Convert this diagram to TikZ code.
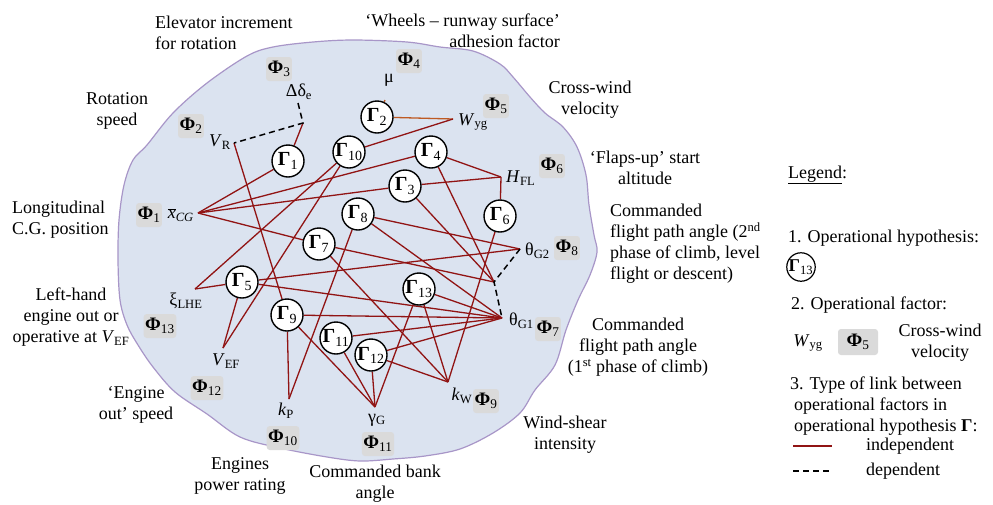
\documentclass[tikz,border=0pt]{standalone}
\usepackage{fontspec}
\setmainfont{Liberation Serif}
\usepackage{tikz}
\usetikzlibrary{backgrounds}
\definecolor{cloud}{RGB}{219,227,240}
\definecolor{cloud-edge}{RGB}{168,150,200}
\definecolor{link-red}{RGB}{145,20,20}
\definecolor{link-orange}{RGB}{190,90,35}
\definecolor{phi-gray}{RGB}{218,218,218}
\newcommand{\hyp}[1]{\textbf{Γ}\textsubscript{#1}}
\newcommand{\fac}[1]{\textbf{Φ}\textsubscript{#1}}

\begin{document}
\begin{tikzpicture}[x=1pt,y=-1pt,
	gam/.style={circle,draw,line width=1.4pt,fill=white,minimum size=32pt,inner sep=0pt,font=\fontsize{20}{20}\selectfont},
	phi/.style={fill=phi-gray,rounded corners=3pt,minimum height=24pt,minimum width=24pt,inner sep=1.5pt,font=\fontsize{19}{19}\selectfont},
	indep/.style={link-red,line width=1.3pt},
	dep/.style={black,line width=1.5pt,dash pattern=on 6pt off 4pt},
	lbl/.style={font=\fontsize{18}{21}\selectfont,inner sep=0pt,align=center},
	sym/.style={font=\fontsize{18}{18}\selectfont,inner sep=0pt}]
	\useasboundingbox (0,0) rectangle (993,504);

	% Operational hypotheses
	\node[gam] (g1) at (288,161) {\hyp{1}};
	\node[gam] (g2) at (377,117) {\hyp{2}};
	\node[gam] (g10) at (349,152) {\hyp{10}};
	\node[gam] (g4) at (431,152) {\hyp{4}};
	\node[gam] (g3) at (405,186) {\hyp{3}};
	\node[gam] (g8) at (358,214) {\hyp{8}};
	\node[gam] (g6) at (500,216) {\hyp{6}};
	\node[gam] (g7) at (319,244) {\hyp{7}};
	\node[gam] (g5) at (242,282) {\hyp{5}};
	\node[gam] (g13) at (419,289) {\hyp{13}};
	\node[gam] (g9) at (287,315) {\hyp{9}};
	\node[gam] (g11) at (336,338) {\hyp{11}};
	\node[gam] (g12) at (371,355) {\hyp{12}};

	% Link points of the operational factors
	\coordinate (de) at (298,103);
	\coordinate (jr) at (303,123);
	\coordinate (vr) at (234,143);
	\coordinate (mu) at (385,100);
	\coordinate (wyg) at (453,119);
	\coordinate (hfl) at (501,177);
	\coordinate (tg2) at (520,249);
	\coordinate (jt) at (494,282);
	\coordinate (tg1) at (502,318);
	\coordinate (kw) at (448,382);
	\coordinate (gg) at (375,407);
	\coordinate (kp) at (289,399);
	\coordinate (vef) at (223,348);
	\coordinate (xi) at (195,289);
	\coordinate (xcg) at (198,213);

	% Names of the factors
	\node[sym,anchor=east] (vr-t) at (231,142) {\textit{V}\textsubscript{R}};
	\node[sym] (de-t) at (299,92) {Δδ\textsubscript{e}};
	\node[sym] (mu-t) at (389,80) {μ};
	\node[sym,anchor=west] (wyg-t) at (458,122) {\textit{W}\textsubscript{yg}};
	\node[sym,anchor=west] (hfl-t) at (506,178) {\textit{H}\textsubscript{FL}};
	\node[sym,anchor=west] (tg2-t) at (525,251) {θ\textsubscript{G2}};
	\node[sym,anchor=west] (tg1-t) at (509,321) {θ\textsubscript{G1}};
	\node[sym] (kw-t) at (462,396) {\textit{k}\textsubscript{W}};
	\node[sym] (gg-t) at (377,420) {γ\textsubscript{G}};
	\node[sym] (kp-t) at (286,411) {\textit{k}\textsubscript{P}};
	\node[sym] (vef-t) at (226,361) {\textit{V}\textsubscript{EF}};
	\node[sym] (xi-t) at (186,301) {ξ\textsubscript{LHE}};
	\node[sym,anchor=east] (xcg-t) at (194,215) {$\overline{\mbox{\itshape x}}$\textsubscript{\itshape CG}};

	% Factor boxes
	\node[phi] (p1) at (149,215) {\fac{1}};
	\node[phi] (p2) at (191,126) {\fac{2}};
	\node[phi] (p3) at (279,69) {\fac{3}};
	\node[phi] (p4) at (409,61) {\fac{4}};
	\node[phi] (p5) at (496,106) {\fac{5}};
	\node[phi] (p6) at (552,166) {\fac{6}};
	\node[phi] (p8) at (567,248) {\fac{8}};
	\node[phi] (p7) at (548,329) {\fac{7}};
	\node[phi] (p9) at (486,401) {\fac{9}};
	\node[phi] (p11) at (378,444) {\fac{11}};
	\node[phi] (p10) at (283,438) {\fac{10}};
	\node[phi] (p12) at (207,388) {\fac{12}};
	\node[phi] (p13) at (160,326) {\fac{13}};

	\begin{pgfonlayer}{background}
	% Field of the factors
	\draw[cloud-edge,fill=cloud,line width=1.2pt] plot[smooth cycle,tension=0.55] coordinates {
		(133,160) (147,145) (173,113) (207,83) (247,56) (273,47) (313,42) (353,40)
		(407,42) (440,47) (473,51) (500,64) (513,77) (530,97) (545,113) (563,127)
		(577,147) (586,175) (589,205) (594,235) (597,252) (590,275) (578,300)
		(566,330) (555,365) (535,390) (520,413) (493,433) (460,449) (425,456)
		(393,459) (360,461) (327,457) (280,448) (240,437) (207,414) (175,392)
		(153,367) (138,345) (127,325) (120,300) (118,260) (119,220) (124,185)};

	% Independent links
	\draw[indep] (g1) -- (jr);
	\draw[indep] (g1) -- (xcg);
	\draw[link-orange,line width=1.3pt] (g2) -- (mu);
	\draw[link-orange,line width=1.3pt] (g2) -- (wyg);
	\draw[indep] (g10) -- (wyg);
	\draw[indep] (g10) -- (xi);
	\draw[indep] (g10) -- (vef);
	\draw[indep] (g4) -- (xcg);
	\draw[indep] (g4) -- (hfl);
	\draw[indep] (g4) -- (jt);
	\draw[indep] (g3) -- (xcg);
	\draw[indep] (g3) -- (hfl);
	\draw[indep] (g3) -- (jt);
	\draw[indep] (g6) -- (hfl);
	\draw[indep] (g6) -- (kw);
	\draw[indep] (g8) -- (tg2);
	\draw[indep] (g8) -- (tg1);
	\draw[indep] (g8) -- (kp);
	\draw[indep] (g7) -- (xcg);
	\draw[indep] (g7) -- (jt);
	\draw[indep] (g7) -- (kw);
	\draw[indep] (g5) -- (xi);
	\draw[indep] (g5) -- (vef);
	\draw[indep] (g5) -- (tg2);
	\draw[indep] (g5) -- (tg1);
	\draw[indep] (g13) -- (tg1);
	\draw[indep] (g13) -- (gg);
	\draw[indep] (g13) -- (kw);
	\draw[indep] (g9) -- (vr);
	\draw[indep] (g9) -- (kp);
	\draw[indep] (g9) -- (tg1);
	\draw[indep] (g9) -- (gg);
	\draw[indep] (g11) -- (tg1);
	\draw[indep] (g11) -- (gg);
	\draw[indep] (g12) -- (tg1);
	\draw[indep] (g12) -- (gg);
	\draw[indep] (g12) -- (kw);

	% Dependent links
	\draw[dep] (de) -- (jr) -- (vr);
	\draw[dep] (tg2) -- (jt) -- (tg1);
	\end{pgfonlayer}

	% Names of the operational factors
	\node[lbl,align=left,anchor=west] (t3) at (155,33) {Elevator increment\\for rotation};
	\node[lbl,align=right,anchor=east] (t4) at (560,31) {‘Wheels – runway surface’\\adhesion factor};
	\node[lbl] (t2) at (117,111) {Rotation\\speed};
	\node[lbl] (t5) at (590,100) {Cross-wind\\velocity};
	\node[lbl] (t6) at (645,168) {‘Flaps-up’ start\\altitude};
	\node[lbl,align=left,anchor=west] (t8) at (610,244) {Commanded\\flight path angle (2\textsuperscript{nd}\\phase of climb, level\\flight or descent)};
	\node[lbl] (t7) at (638,347) {Commanded\\flight path angle\\(1\textsuperscript{st} phase of climb)};
	\node[lbl] (t9) at (565,435) {Wind-shear\\intensity};
	\node[lbl] (t11) at (375,484) {Commanded bank\\angle};
	\node[lbl] (t10) at (240,476) {Engines\\power rating};
	\node[lbl] (t12) at (136,405) {‘Engine\\out’ speed};
	\node[lbl] (t13) at (71,317) {Left-hand\\engine out or\\operative at \textit{V}\textsubscript{EF}};
	\node[lbl,align=left,anchor=west] (t1) at (12,220) {Longitudinal\\C.G. position};

	% Legend
	\node[lbl,anchor=west] (leg) at (788,175) {\underline{Legend}:};
	\node[lbl,anchor=west] (leg1) at (788,238) {1. Operational hypothesis:};
	\node[gam,minimum size=27pt,line width=1.2pt,font=\fontsize{18}{18}\selectfont] (lg) at (801,267) {\hyp{13}};
	\node[lbl,anchor=west] (leg2) at (791,305) {2. Operational factor:};
	\node[sym] (lw) at (808,343) {\textit{W}\textsubscript{yg}};
	\node[phi,minimum width=40pt,minimum height=26pt] (lp) at (858,342) {\fac{5}};
	\node[lbl] (lt) at (940,343) {Cross-wind\\velocity};
	\node[lbl,align=left,anchor=north west] (leg3) at (790,377) {3. Type of link between\\\hspace*{4pt}operational factors in\\\hspace*{4pt}operational hypothesis \textbf{Γ}:};
	\coordinate (li0) at (793,446);
	\coordinate (li1) at (832,446);
	\coordinate (ld0) at (793,471);
	\coordinate (ld1) at (832,471);
	\draw[indep] (li0) -- (li1);
	\draw[dep] (ld0) -- (ld1);
	\node[lbl,anchor=west] (lti) at (866,446) {independent};
	\node[lbl,anchor=west] (ltd) at (866,471) {dependent};
\end{tikzpicture}
\end{document}
